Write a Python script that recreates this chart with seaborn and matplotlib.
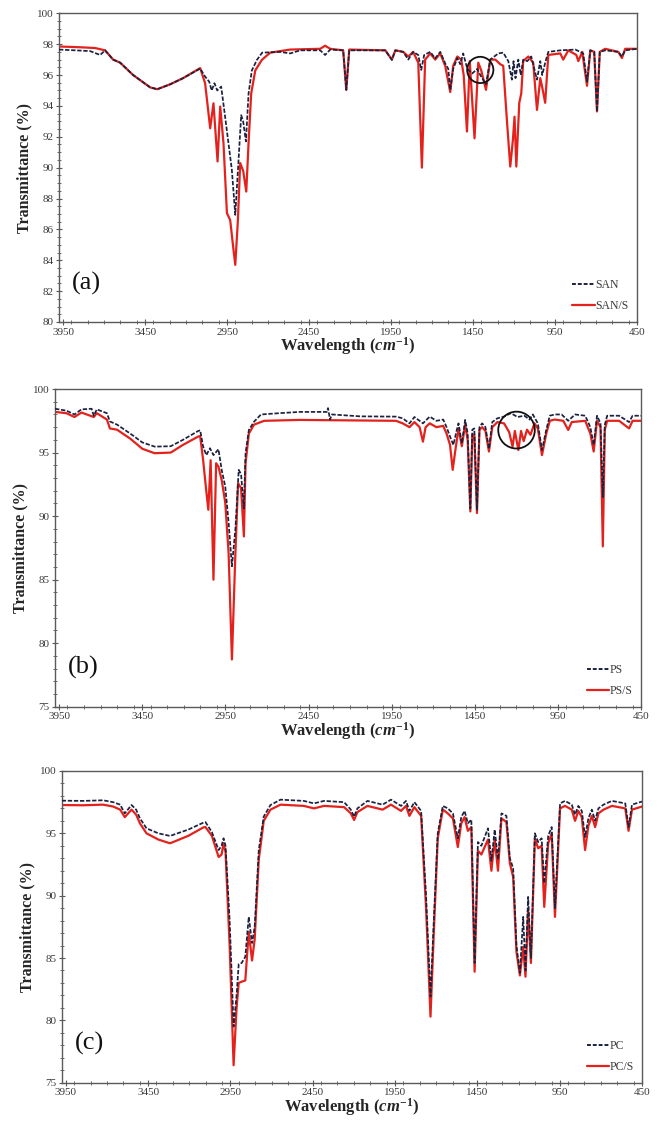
import numpy as np
import pandas as pd
import matplotlib
matplotlib.use("Agg")
import matplotlib.pyplot as plt
from matplotlib.patches import Ellipse
from matplotlib.lines import Line2D
from matplotlib.ticker import MultipleLocator
import seaborn as sns

# ---- data (wavenumber in cm-1, transmittance in %) ----
san_wn = [3975, 3876, 3785, 3724, 3694, 3645, 3602, 3523, 3419, 3376, 3297, 3218, 3114, 3084, 3059,
          3044, 3027, 3010, 2986, 2962, 2921, 2900, 2880, 2864, 2852, 2835, 2819, 2799, 2768, 2736,
          2626, 2565, 2504, 2382, 2352, 2321, 2242, 2223, 2205, 1985, 1945, 1924, 1876, 1845, 1815,
          1784, 1766, 1748, 1711, 1681, 1650, 1620, 1601, 1589, 1571, 1546, 1528, 1510, 1485, 1455,
          1424, 1406, 1371, 1345, 1296, 1266, 1235, 1213, 1203, 1191, 1174, 1159, 1144, 1119, 1095,
          1060, 1040, 1028, 1010, 991, 918, 826, 778, 755, 735, 711, 694, 677, 644, 564, 542, 522, 450]
san_t = [97.65, 97.6, 97.55, 97.3, 97.6, 97.0, 96.8, 96.0, 95.2, 95.08, 95.4, 95.8, 96.42, 95.9, 95.57,
         95.0, 95.47, 95.0, 95.25, 93.3, 89.86, 86.94, 90.5, 93.4, 93.0, 91.7, 94.8, 96.3, 96.98, 97.45,
         97.5, 97.4, 97.6, 97.6, 97.3, 97.65, 97.6, 95.04, 97.6, 97.6, 96.98, 97.6, 97.5, 97.0, 97.5,
         97.3, 96.33, 97.3, 97.5, 97.08, 97.5, 96.76, 96.4, 95.04, 96.4, 97.1, 96.7, 97.4, 96.4, 96.1,
         96.4, 96.0, 95.4, 97.0, 97.4, 97.45, 96.9, 95.7, 96.9, 95.8, 97.0, 96.0, 97.0, 96.9, 97.2,
         95.7, 96.9, 96.0, 96.8, 97.5, 97.6, 97.65, 97.4, 95.57, 97.6, 97.5, 93.64, 97.5, 97.6, 97.5, 97.2, 97.6, 97.7]

sans_wn = [3975, 3846, 3755, 3694, 3645, 3602, 3523, 3419, 3376, 3297, 3218, 3114, 3084, 3053, 3033,
           3008, 2992, 2972, 2951, 2931, 2911, 2900, 2884, 2870, 2852, 2833, 2819, 2803, 2778, 2738,
           2687, 2565, 2382, 2352, 2321, 2242, 2223, 2205, 1985, 1945, 1924, 1876, 1845, 1815, 1784,
           1762, 1742, 1711, 1681, 1650, 1620, 1589, 1571, 1546, 1522, 1507, 1487, 1470, 1441, 1418,
           1400, 1371, 1345, 1314, 1284, 1266, 1243, 1223, 1207, 1197, 1186, 1168, 1156, 1144, 1113,
           1083, 1060, 1040, 1028, 1010, 991, 918, 900, 869, 820, 808, 784, 755, 735, 711, 694, 677,
           644, 564, 542, 522, 450]
sans_t = [97.85, 97.8, 97.75, 97.6, 97.0, 96.8, 96.0, 95.2, 95.08, 95.4, 95.8, 96.45, 95.47, 92.55, 94.17,
          90.4, 93.96, 91.6, 87.06, 86.6, 84.68, 83.7, 86.6, 90.3, 89.8, 88.45, 91.6, 94.8, 96.3, 96.98,
          97.45, 97.65, 97.7, 97.9, 97.7, 97.6, 95.04, 97.65, 97.6, 97.0, 97.6, 97.5, 97.2, 97.5, 96.8,
          90.0, 97.0, 97.4, 97.0, 97.4, 96.6, 94.9, 96.6, 97.2, 97.0, 96.0, 92.34, 96.9, 91.9, 96.8,
          96.3, 95.04, 97.0, 97.0, 96.7, 96.6, 93.0, 90.07, 91.8, 93.3, 90.07, 94.2, 94.8, 96.9, 97.2,
          96.8, 93.74, 95.8, 95.2, 94.2, 97.3, 97.4, 97.0, 97.6, 97.3, 96.9, 97.5, 95.3, 97.6, 97.5, 93.64, 97.5,
          97.7, 97.5, 97.1, 97.7, 97.7]

ps_wn = [3975, 3907, 3858, 3816, 3755, 3742, 3724, 3663, 3645, 3602, 3523, 3450, 3376, 3279, 3206,
         3114, 3102, 3084, 3065, 3043, 3022, 2992, 2972, 2951, 2931, 2911, 2890, 2870, 2856, 2839,
         2829, 2809, 2778, 2736, 2626, 2504, 2340, 2333, 2321, 2309, 2138, 1924, 1884, 1843, 1813,
         1762, 1721, 1681, 1640, 1620, 1599, 1579, 1558, 1548, 1528, 1508, 1493, 1477, 1465, 1453,
         1437, 1422, 1406, 1386, 1365, 1345, 1314, 1274, 1233, 1193, 1152, 1121, 1101, 1071, 1046,
         1020, 999, 969, 928, 888, 847, 786, 755, 735, 715, 694, 680, 668, 654, 582, 522, 501, 450]
ps_t = [98.45, 98.3, 98.0, 98.4, 98.45, 97.9, 98.4, 98.1, 97.45, 97.2, 96.5, 95.8, 95.47, 95.5, 96.0,
        96.7, 96.75, 95.47, 94.8, 95.34, 94.8, 95.26, 93.6, 92.33, 89.5, 86.05, 89.0, 93.64, 93.3, 90.6,
        94.95, 96.78, 97.43, 98.0, 98.1, 98.2, 98.2, 98.5, 97.6, 98.0, 97.85, 97.83, 97.7, 97.3, 97.8,
        97.3, 97.83, 97.5, 97.6, 97.0, 96.26, 95.6, 96.8, 97.3, 95.73, 97.57, 96.5, 90.6, 96.8, 96.9,
        90.5, 97.0, 97.3, 97.0, 95.3, 97.4, 97.7, 97.83, 98.1, 97.8, 97.9, 97.6, 98.0, 97.3, 95.2,
        96.8, 97.9, 98.0, 98.0, 97.5, 98.0, 97.9, 97.0, 95.6, 97.9, 97.3, 91.5, 97.2, 97.9, 97.9, 97.4, 97.9, 97.9]

pss_wn = [3975, 3907, 3858, 3816, 3742, 3724, 3663, 3645, 3602, 3523, 3450, 3376, 3279, 3206, 3114,
          3102, 3084, 3068, 3053, 3039, 3022, 3006, 2992, 2972, 2951, 2931, 2911, 2890, 2874, 2856,
          2839, 2829, 2809, 2778, 2717, 2504, 1924, 1884, 1843, 1813, 1782, 1762, 1746, 1721, 1681,
          1640, 1620, 1599, 1583, 1569, 1548, 1528, 1508, 1493, 1477, 1465, 1453, 1437, 1422, 1406,
          1386, 1365, 1345, 1314, 1274, 1243, 1223, 1209, 1188, 1172, 1156, 1136, 1115, 1091, 1071,
          1046, 1020, 999, 969, 918, 888, 867, 786, 755, 735, 715, 694, 680, 668, 654, 582, 522, 501, 450]
pss_t = [98.2, 98.1, 97.8, 98.15, 97.8, 98.1, 97.6, 96.9, 96.8, 96.1, 95.3, 94.95, 95.0, 95.6, 96.26,
         96.3, 94.4, 92.33, 90.5, 94.4, 85.0, 94.16, 93.9, 92.8, 91.05, 87.1, 78.72, 87.1, 92.6, 92.2,
         88.4, 94.16, 96.5, 97.2, 97.5, 97.57, 97.5, 97.3, 97.0, 97.4, 97.0, 95.86, 97.0, 97.3, 97.0,
         97.1, 96.5, 95.6, 93.64, 95.0, 96.9, 95.5, 97.2, 96.0, 90.37, 96.4, 96.4, 90.24, 96.8, 97.0,
         96.7, 95.08, 97.0, 97.4, 97.3, 96.6, 95.47, 96.7, 95.2, 96.7, 95.9, 96.8, 96.4, 97.3, 96.9,
         94.8, 96.5, 97.5, 97.6, 97.5, 96.78, 97.4, 97.5, 96.5, 95.08, 97.5, 97.0, 87.62, 96.8, 97.5, 97.5, 96.9, 97.5, 97.5]

pc_wn = [3975, 3846, 3724, 3663, 3620, 3592, 3551, 3523, 3500, 3460, 3388, 3317, 3206, 3114, 3102,
         3063, 3022, 3004, 2992, 2980, 2955, 2931, 2913, 2900, 2882, 2860, 2839, 2819, 2803, 2778,
         2748, 2707, 2646, 2504, 2443, 2382, 2260, 2219, 2199, 2179, 2118, 2026, 1975, 1914, 1884,
         1863, 1833, 1792, 1762, 1735, 1715, 1691, 1660, 1630, 1599, 1569, 1548, 1528, 1508, 1487,
         1467, 1447, 1426, 1386, 1365, 1345, 1325, 1304, 1274, 1253, 1233, 1213, 1192, 1172, 1158,
         1142, 1125, 1101, 1081, 1060, 1044, 1020, 999, 979, 948, 918, 877, 857, 837, 816, 796, 776,
         755, 735, 715, 684, 633, 552, 532, 511, 450]
pc_t = [97.62, 97.6, 97.65, 97.5, 97.3, 96.6, 97.27, 96.9, 96.2, 95.4, 95.0, 94.79, 95.3, 95.86, 95.9,
        95.1, 93.66, 94.0, 94.6, 94.0, 88.0, 79.5, 82.0, 84.5, 84.6, 85.1, 88.3, 86.2, 87.5, 93.66,
        96.34, 97.27, 97.7, 97.6, 97.4, 97.6, 97.5, 96.9, 96.34, 97.0, 97.6, 97.3, 97.7, 97.2, 97.6,
        96.8, 97.5, 96.8, 90.0, 81.9, 88.0, 95.0, 97.2, 97.0, 96.6, 94.6, 96.3, 96.8, 95.8, 96.1,
        84.6, 94.3, 94.0, 95.4, 92.8, 95.3, 92.9, 96.6, 96.4, 93.0, 92.2, 86.0, 83.8, 88.3, 84.0,
        89.9, 85.0, 95.0, 94.3, 94.6, 91.0, 94.8, 95.5, 89.0, 97.4, 97.6, 97.3, 96.5, 97.2, 96.8, 94.7, 96.2,
        96.9, 96.0, 97.0, 97.3, 97.6, 97.4, 95.5, 97.3, 97.55]

pcs_wn = pc_wn
pcs_t = [97.27, 97.25, 97.3, 97.15, 96.9, 96.3, 96.9, 96.5, 95.8, 95.0, 94.5, 94.2, 94.8, 95.48, 95.5,
         94.8, 93.1, 93.3, 94.2, 93.5, 86.0, 76.4, 81.0, 83.0, 83.1, 83.2, 87.1, 84.8, 86.5, 92.9,
         96.0, 96.9, 97.3, 97.2, 97.0, 97.2, 97.1, 96.6, 96.07, 96.7, 97.2, 96.9, 97.3, 96.8, 97.2,
         96.4, 97.1, 96.4, 89.0, 80.3, 87.0, 94.6, 96.9, 96.6, 96.2, 93.9, 95.8, 96.3, 95.2, 95.5,
         83.9, 93.6, 93.3, 94.5, 92.0, 94.5, 92.0, 96.2, 95.9, 92.6, 91.5, 85.5, 83.6, 85.9, 83.5,
         88.85, 84.6, 94.6, 93.8, 94.0, 89.1, 94.2, 95.0, 88.3, 97.0, 97.2, 96.9, 96.0, 96.8, 96.3, 93.66, 95.6,
         96.4, 95.5, 96.6, 96.9, 97.2, 97.0, 95.2, 96.9, 97.15]

x_ticks = [3950, 3450, 2950, 2450, 1950, 1450, 950, 450]

panels = [
    dict(tag="(a)", base="SAN", wn=(san_wn, sans_wn), t=(san_t, sans_t), ylim=(80, 100), ystep=2,
         ymin=0.5, rect=[0.0890, 0.7143, 0.8718, 0.2739], circle=(1406, 96.33, 160, 1.7)),
    dict(tag="(b)", base="PS", wn=(ps_wn, pss_wn), t=(ps_t, pss_t), ylim=(75, 100), ystep=5,
         ymin=1, rect=[0.0830, 0.3729, 0.8839, 0.2819], circle=(1199, 96.77, 220, 2.9)),
    dict(tag="(c)", base="PC", wn=(pc_wn, pcs_wn), t=(pc_t, pcs_t), ylim=(75, 100), ystep=5,
         ymin=1, rect=[0.0931, 0.0393, 0.8753, 0.2766], circle=None),
]

sns.set_theme(style="white")
plt.rcParams["font.family"] = ["Liberation Serif", "DejaVu Serif"]
plt.rcParams["mathtext.fontset"] = "custom"
plt.rcParams["mathtext.it"] = "Liberation Serif:italic:bold"
plt.rcParams["mathtext.rm"] = "Liberation Serif:bold"

navy = "#1b2240"
red = "#e3221d"
axis_col = "#5a5a5a"

fig = plt.figure(figsize=(6.63, 11.27), dpi=100)

for p in panels:
    ax = fig.add_axes(p["rect"])
    names = [p["base"], p["base"] + "/S"]
    df_ref = pd.DataFrame({"wn": p["wn"][0], "T": p["t"][0]})
    df_s = pd.DataFrame({"wn": p["wn"][1], "T": p["t"][1]})
    sns.lineplot(data=df_s, x="wn", y="T", ax=ax, color=red, lw=1.6, sort=False,
                 estimator=None, zorder=2)
    sns.lineplot(data=df_ref, x="wn", y="T", ax=ax, color=navy, lw=1.25, sort=False,
                 estimator=None, zorder=3)
    ax.lines[-1].set_dashes([2.5, 1.0])

    ax.set_xlim(3975, 450)
    ax.set_ylim(*p["ylim"])
    ax.set_xticks(x_ticks)
    ax.xaxis.set_minor_locator(MultipleLocator(100))
    ax.yaxis.set_major_locator(MultipleLocator(p["ystep"]))
    ax.yaxis.set_minor_locator(MultipleLocator(p["ymin"]))
    ax.tick_params(axis="both", which="major", direction="inout", length=4, width=0.8,
                   color=axis_col, labelsize=8, labelcolor="#3a3a3a", pad=2)
    ax.tick_params(axis="both", which="minor", direction="inout", length=2.5, width=0.6,
                   color=axis_col)
    ax.tick_params(bottom=True, left=True, which="both")
    for s in ax.spines.values():
        s.set_color(axis_col)
        s.set_linewidth(1.0)

    ax.set_xlabel(r"Wavelength ($cm^{-1}$)", fontsize=12, fontweight="bold", labelpad=-1)
    ax.set_ylabel("Transmittance (%)", fontsize=11.5, fontweight="bold", labelpad=3)

    ax.text(0.022, 0.125, p["tag"], transform=ax.transAxes, fontsize=19,
            ha="left", va="center", color="#111111")

    if p["circle"] is not None:
        cx, cy, w, h = p["circle"]
        ax.add_patch(Ellipse((cx, cy), w, h, fill=False, edgecolor="#111111", lw=1.3, zorder=4))

    handles = [Line2D([], [], color=navy, lw=1.4, dashes=[2, 1]),
               Line2D([], [], color=red, lw=1.6)]
    ax.legend(handles, names, loc="lower right", bbox_to_anchor=(1.0, 0.005), frameon=False,
              fontsize=8.5, handlelength=1.9, handletextpad=0.05, labelspacing=0.75,
              borderaxespad=0.3, labelcolor="#3a3a3a")

fig.savefig("out.png", dpi=100)
